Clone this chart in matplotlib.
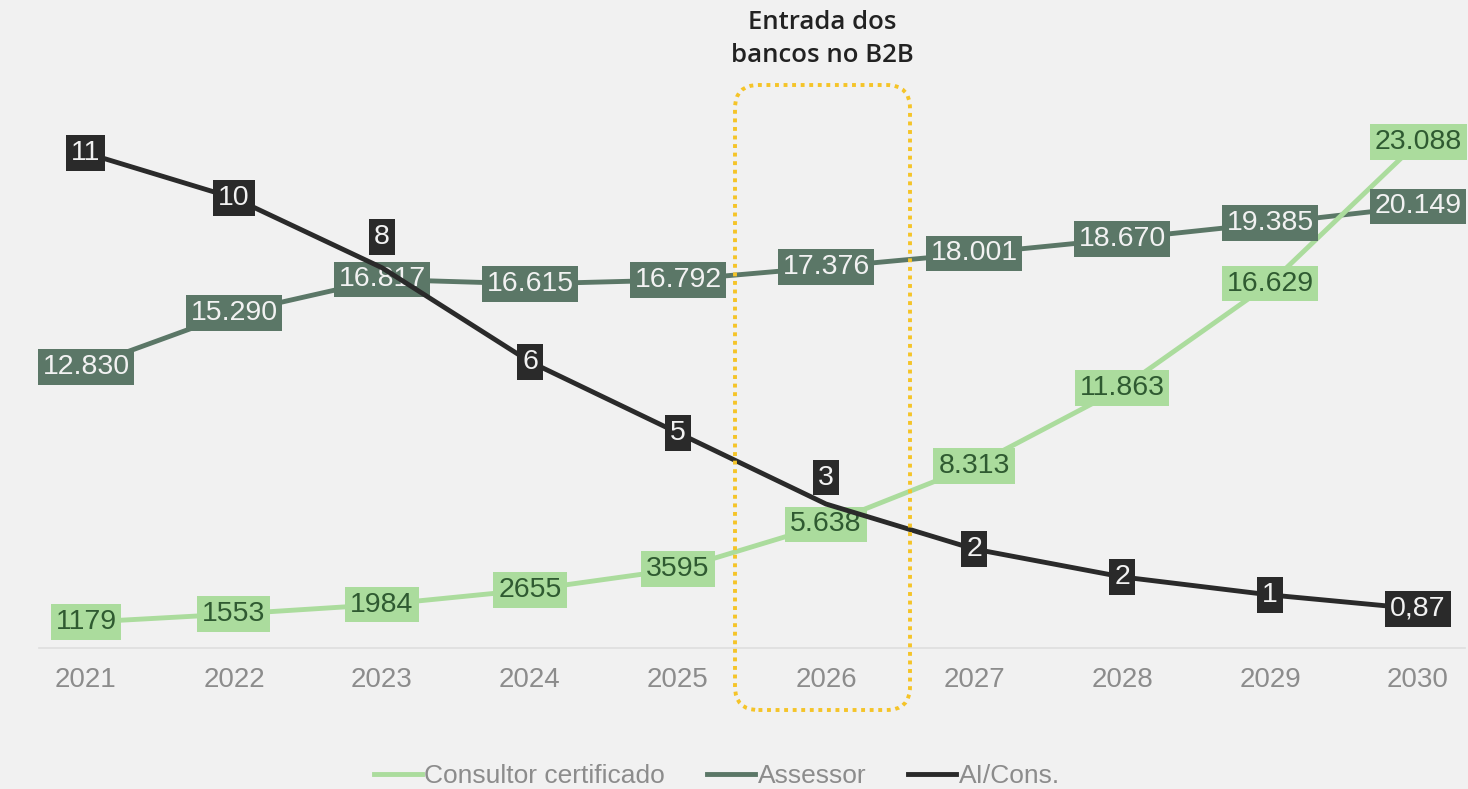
import matplotlib
matplotlib.use("Agg")
import matplotlib.pyplot as plt
from matplotlib.patches import FancyBboxPatch
from matplotlib.lines import Line2D

years = ["2021", "2022", "2023", "2024", "2025", "2026", "2027", "2028", "2029", "2030"]
consultor = [1179, 1553, 1984, 2655, 3595, 5638, 8313, 11863, 16629, 23088]
consultor_labels = ["1179", "1553", "1984", "2655", "3595", "5.638", "8.313", "11.863", "16.629", "23.088"]
assessor = [12830, 15290, 16817, 16615, 16792, 17376, 18001, 18670, 19385, 20149]
assessor_labels = ["12.830", "15.290", "16.817", "16.615", "16.792", "17.376", "18.001", "18.670", "19.385", "20.149"]
ai_cons = [11.0, 10.0, 8.45, 6.36, 4.78, 3.2, 2.2, 1.58, 1.18, 0.87]
ai_labels = ["11", "10", "8", "6", "5", "3", "2", "2", "1", "0,87"]
# vertical label offsets (points) for AI labels that are moved to avoid overlap
ai_label_offsets = [0, 0, 22, 0, 0, 19, 0, 0, 0, 0]

BG = "#f1f1f1"
C_GREEN = "#abdc9d"
C_GREEN_TXT = "#2f5a31"
C_ASS = "#5b7767"
C_AI = "#2a2a2a"
TICK_GRAY = "#8c8c8c"

plt.rcParams['font.family'] = ['Liberation Sans', 'DejaVu Sans']

W, H = 1468, 789
fig = plt.figure(figsize=(W / 100, H / 100), dpi=100, facecolor=BG)
ax = fig.add_axes([38.6 / W, 141 / H, (1465.4 - 38.6) / W, 568 / H])
ax.set_facecolor(BG)
ax2 = ax.twinx()

x = list(range(len(years)))
lw = 3.5
ax.plot(x, assessor, color=C_ASS, lw=lw, zorder=2, solid_capstyle='butt')
ax.plot(x, consultor, color=C_GREEN, lw=lw, zorder=3, solid_capstyle='butt')
ax2.plot(x, ai_cons, color=C_AI, lw=lw, zorder=2, solid_capstyle='butt')

ax.set_xlim(-0.32, 9.32)
ax.set_ylim(0, 568 / 0.021916)
ax2.set_ylim(0, 568 / 45.0)

fs = 20.5
pad = 'square,pad=0.17'
for xi, v, lab in zip(x, assessor, assessor_labels):
    ax.text(xi, v, lab, ha='center', va='center', fontsize=fs, color='#f2f2f2', zorder=10,
            bbox=dict(boxstyle=pad, fc=C_ASS, ec='none'))
for xi, v, lab in zip(x, consultor, consultor_labels):
    ax.text(xi, v, lab, ha='center', va='center', fontsize=fs, color=C_GREEN_TXT, zorder=10,
            bbox=dict(boxstyle=pad, fc=C_GREEN, ec='none'))
for xi, v, lab, off in zip(x, ai_cons, ai_labels, ai_label_offsets):
    ax2.annotate(lab, (xi, v), xytext=(0, off), textcoords='offset points',
                 ha='center', va='center', fontsize=fs, color='#f2f2f2', zorder=10,
                 bbox=dict(boxstyle=pad, fc=C_AI, ec='none'))

for a in (ax, ax2):
    for s in ('left', 'right', 'top'):
        a.spines[s].set_visible(False)
    a.set_yticks([])
ax2.spines['bottom'].set_visible(False)
ax.spines['bottom'].set_color('#dedede')
ax.spines['bottom'].set_linewidth(1.2)
ax.set_xticks(x)
ax.set_xticklabels(years, fontsize=20, color=TICK_GRAY)
ax.tick_params(axis='x', length=0, pad=14)

# highlight box
bx0, bx1 = 735 / W, 910 / W
by0, by1 = (H - 710) / H, (H - 85) / H
box = FancyBboxPatch((bx0, by0), bx1 - bx0, by1 - by0,
                     boxstyle='round,pad=0,rounding_size=0.016',
                     mutation_aspect=W / H, transform=fig.transFigure,
                     fc='none', ec='#f5c428', lw=2.8, ls=(0, (1, 1.2)), zorder=20)
fig.patches.append(box)
fig.text(822.5 / W, 1 - 39 / H, "Entrada dos\nbancos no B2B", ha='center', va='center',
         fontsize=18.5, color='#222222', family=['Open Sans', 'DejaVu Sans'],
         fontweight='semibold', linespacing=1.4)

handles = [Line2D([], [], color=C_GREEN, lw=3.5),
           Line2D([], [], color=C_ASS, lw=3.5),
           Line2D([], [], color=C_AI, lw=3.5)]
leg = fig.legend(handles, ["Consultor certificado", "Assessor", "AI/Cons."],
                 loc='center', bbox_to_anchor=(717 / W, 1 - 776 / H), ncol=3,
                 frameon=False, fontsize=19, handlelength=1.8, handletextpad=0.1,
                 columnspacing=1.6)
for t in leg.get_texts():
    t.set_color(TICK_GRAY)

fig.savefig("out.png", dpi=100, facecolor=BG)
